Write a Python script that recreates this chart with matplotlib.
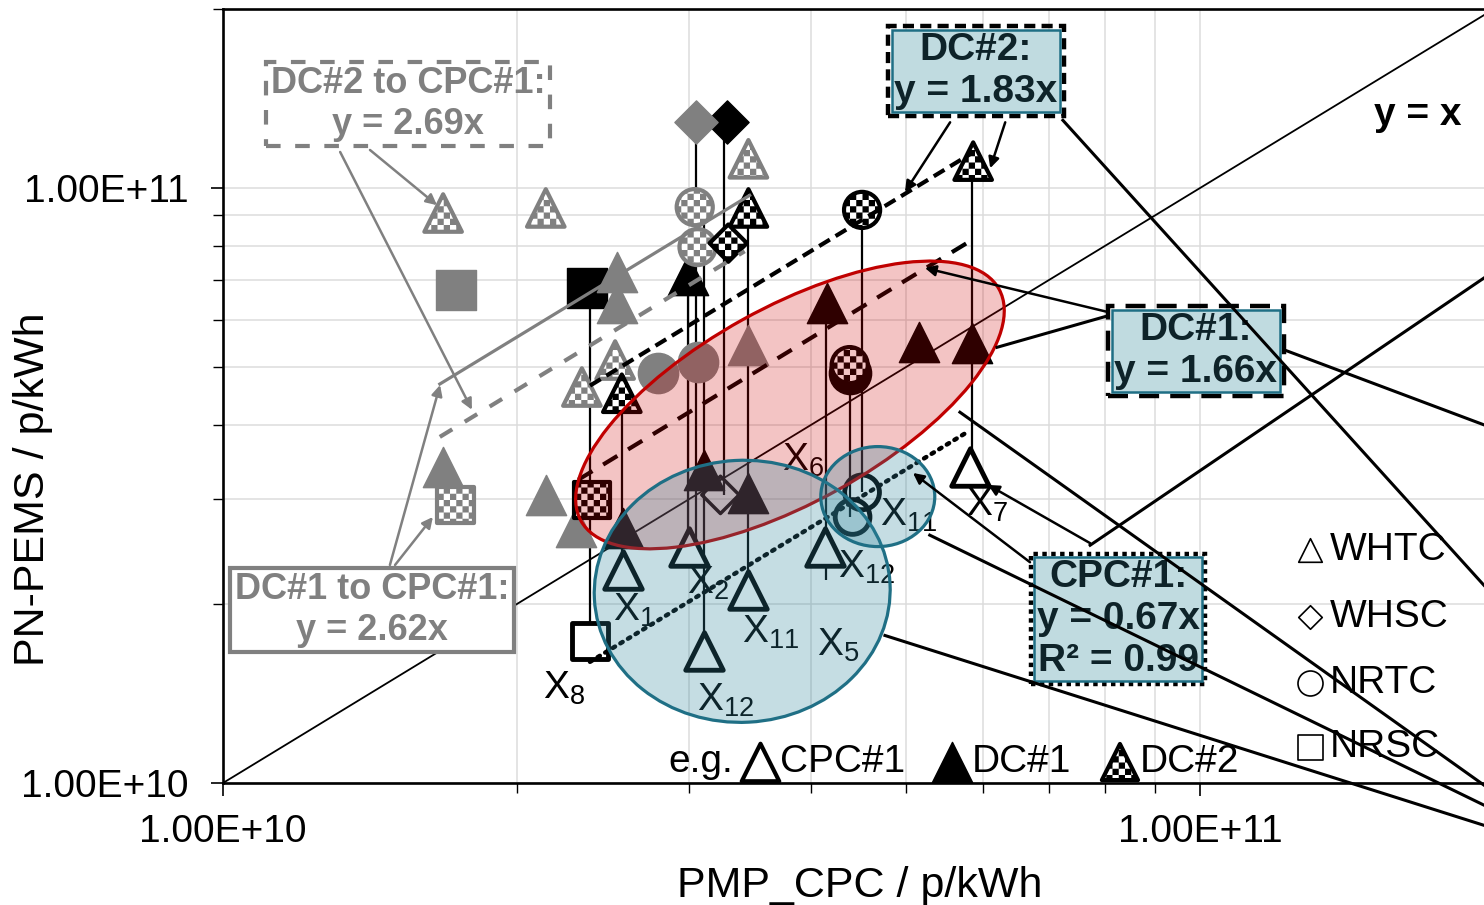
import warnings
warnings.filterwarnings('ignore')
import numpy as np
import matplotlib
matplotlib.use('Agg')
import matplotlib.pyplot as plt
import matplotlib.hatch as mhatch
from matplotlib.path import Path
from matplotlib.patches import Ellipse
from matplotlib.transforms import ScaledTranslation
from matplotlib.ticker import FuncFormatter, LogLocator, NullFormatter

plt.rcParams['font.family'] = ['Liberation Sans', 'DejaVu Sans']
plt.rcParams['hatch.linewidth'] = 0.01
plt.rcParams['mathtext.fontset'] = 'custom'
plt.rcParams['mathtext.rm'] = 'Liberation Sans'
plt.rcParams['mathtext.it'] = 'Liberation Sans'
plt.rcParams['mathtext.bf'] = 'Liberation Sans:bold'


# ---- checkerboard hatch ('c') ----
class CheckerHatch(mhatch.HatchPatternBase):
    def __init__(self, hatch, density):
        self.n = 16 if 'c' in hatch else 0
        self.num_vertices = (self.n * self.n // 2) * 5

    def set_vertices_and_codes(self, vertices, codes):
        n = self.n
        s = 1.0 / n
        k = 0
        for i in range(n):
            for j in range(n):
                if (i + j) % 2 == 0:
                    x0, y0 = i * s, j * s
                    vertices[k:k + 5] = [(x0, y0), (x0 + s, y0), (x0 + s, y0 + s),
                                         (x0, y0 + s), (x0, y0)]
                    codes[k:k + 5] = [Path.MOVETO, Path.LINETO, Path.LINETO,
                                      Path.LINETO, Path.CLOSEPOLY]
                    k += 5


mhatch._hatch_types.append(CheckerHatch)
CHK = 'c'

# ---------------- data ----------------
# grey series
grey_dc2_tri_x = [1.68e10, 2.14e10, 3.45e10, 2.52e10, 2.33e10]
grey_dc2_tri_y = [9.08e10, 9.26e10, 1.12e11, 5.14e10, 4.63e10]
grey_dc1_tri_x = [2.53e10, 2.53e10, 1.68e10, 2.14e10, 2.30e10, 3.45e10]
grey_dc1_tri_y = [7.23e10, 6.41e10, 3.40e10, 3.05e10, 2.69e10, 5.45e10]
grey_dc1_sq_x = [1.73e10]
grey_dc1_sq_y = [6.74e10]
grey_dc2_sq_x = [1.73e10]
grey_dc2_sq_y = [2.93e10]
grey_dc2_circ_x = [3.04e10, 3.06e10]
grey_dc2_circ_y = [9.29e10, 7.96e10]
grey_dc1_circ_x = [2.79e10, 3.06e10]
grey_dc1_circ_y = [4.89e10, 5.10e10]
grey_dc1_dia_x = [3.05e10]
grey_dc1_dia_y = [1.29e11]

# DC#1 (filled black)
dc1_tri_x = [2.99e10, 4.15e10, 5.16e10, 5.84e10, 3.11e10, 3.45e10, 2.57e10]
dc1_tri_y = [7.14e10, 6.41e10, 5.51e10, 5.49e10, 3.36e10, 3.07e10, 2.68e10]
dc1_sq_x = [2.36e10]
dc1_sq_y = [6.79e10]
dc1_circ_x = [4.38e10]
dc1_circ_y = [4.89e10]
dc1_dia_x = [3.28e10]
dc1_dia_y = [1.29e11]

# DC#2 (checkered)
dc2_tri_x = [5.86e10, 3.45e10, 2.56e10]
dc2_tri_y = [1.11e11, 9.26e10, 4.52e10]
dc2_circ_x = [4.51e10, 4.38e10]
dc2_circ_y = [9.19e10, 5.04e10]
dc2_dia_x = [3.29e10]
dc2_dia_y = [8.08e10]
dc2_sq_x = [2.385e10]
dc2_sq_y = [2.99e10]

# CPC#1 (open)
cpc_tri_x = [2.57e10, 3.00e10, 3.45e10, 3.11e10, 4.13e10, 5.81e10]
cpc_tri_y = [2.28e10, 2.49e10, 2.11e10, 1.67e10, 2.49e10, 3.40e10]
cpc_sq_x = [2.375e10]
cpc_sq_y = [1.73e10]
cpc_circ_x = [4.51e10, 4.41e10]
cpc_circ_y = [3.08e10, 2.80e10]
cpc_dia_x = [3.23e10]
cpc_dia_y = [3.05e10]

# vertical links between instruments for the same test
link_x = [2.375e10, 2.56e10, 2.99e10, 3.05e10, 3.11e10, 3.26e10, 3.45e10,
          4.14e10, 4.38e10, 4.51e10, 5.84e10]
link_lo = [1.73e10, 2.30e10, 2.49e10, 2.49e10, 1.67e10, 3.05e10, 2.11e10,
           2.19e10, 2.80e10, 3.08e10, 3.40e10]
link_hi = [6.79e10, 4.52e10, 7.14e10, 1.29e11, 8.83e10, 1.29e11, 9.26e10,
           6.41e10, 4.89e10, 9.19e10, 1.11e11]

# fitted slopes (as drawn) and x-ranges
fit_cpc1_k, fit_cpc1_x = 0.673, [2.375e10, 5.78e10]
fit_dc1_k, fit_dc1_x = 1.40, [2.31e10, 5.80e10]
fit_dc2_k, fit_dc2_x = 1.96, [2.375e10, 5.85e10]
fit_g1_k, fit_g1_x = 2.81, [1.667e10, 3.46e10]
fit_g2_k, fit_g2_x = 2.29, [1.667e10, 3.42e10]

# labels X_n
xlab_text = ['1', '2', '11', '5', '12', '12', '8', '6', '11', '7']
xlab_x = [2.507e10, 2.985e10, 3.398e10, 4.055e10, 3.056e10, 4.261e10,
          2.126e10, 3.734e10, 4.704e10, 5.76e10]
xlab_y = [1.953e10, 2.168e10, 1.794e10, 1.706e10, 1.379e10, 2.307e10,
          1.444e10, 3.49e10, 2.82e10, 2.93e10]

# ellipses: centre (data), width/height (inches), angle
ell_red = (3.805e10, 4.32e10, 4.78, 1.95, 29)
ell_blue_big = (3.40e10, 2.10e10, 2.96, 2.62, 3)
ell_blue_small = (4.68e10, 3.03e10, 1.14, 1.00, 0)

# annotation arrows (tail -> head), data coords
black_arrows = [((5.55e10, 1.29e11), (4.99e10, 9.85e10)),
                ((6.32e10, 1.29e11), (6.10e10, 1.08e11)),
                ((8.05e10, 6.19e10), (5.23e10, 7.34e10)),
                ((7.72e10, 2.53e10), (6.07e10, 3.17e10)),
                ((6.70e10, 2.35e10), (5.085e10, 3.32e10))]
black_lines = [((7.24e10, 1.30e11), (1.953e11, 2.15e10)),
               ((8.05e10, 6.10e10), (6.20e10, 5.40e10)),
               ((1.222e11, 5.34e10), (1.953e11, 4.0e10)),
               ((7.72e10, 2.51e10), (1.953e11, 7.06e10)),
               ((5.68e10, 4.20e10), (1.953e11, 9.92e9)),
               ((5.29e10, 2.61e10), (1.953e11, 9.18e9)),
               ((4.76e10, 1.77e10), (1.953e11, 8.49e9))]
grey_arrows = [((1.414e10, 1.159e11), (1.656e10, 9.36e10)),
               ((1.318e10, 1.150e11), (1.798e10, 4.24e10)),
               ((1.482e10, 2.325e10), (1.668e10, 4.667e10)),
               ((1.50e10, 2.325e10), (1.640e10, 2.80e10))]

GREY = '#808080'
TEAL = '#1f6f85'
BOXFILL = '#c0dbe0'
TXTDARK = '#0e2329'

# ---------------- figure ----------------
fig = plt.figure(figsize=(14.84, 9.05), dpi=100)
ax = fig.add_axes([223 / 1484, 122 / 905, 1271 / 1484, 774 / 905])
ax.set_xscale('log')
ax.set_yscale('log')
ax.set_xlim(1e10, 2e11)
ax.set_ylim(1e10, 2e11)

fmt = FuncFormatter(lambda v, p: f'{v:.2E}')
for axis in (ax.xaxis, ax.yaxis):
    axis.set_major_locator(LogLocator(base=10, numticks=5))
    axis.set_major_formatter(fmt)
    axis.set_minor_locator(LogLocator(base=10, subs=np.arange(2, 10), numticks=20))
    axis.set_minor_formatter(NullFormatter())
ax.tick_params(which='major', direction='out', length=9, width=1.2, labelsize=28)
ax.tick_params(which='minor', direction='out', length=7, width=1.0)
ax.tick_params(axis='x', which='major', pad=13)
ax.tick_params(axis='y', which='major', pad=16)
ax.grid(True, which='both', color='#dcdcdc', lw=1.1)
ax.set_axisbelow(True)
for s in ['left', 'bottom', 'top']:
    ax.spines[s].set_linewidth(1.9)
ax.spines['right'].set_visible(False)

ax.set_xlabel('PMP_CPC / p/kWh', fontsize=31)
ax.xaxis.set_label_coords(0.501, -0.107)
ax.set_ylabel('PN-PEMS / p/kWh', fontsize=31)
ax.yaxis.set_label_coords(-0.1335, 0.379)

# y = x line
ax.plot([1e10, 3e11], [1e10, 3e11], color='black', lw=1.3, zorder=2)

# vertical links
ax.vlines(link_x, link_lo, link_hi, colors='black', lw=1.6, zorder=2)

MS_T = 29 ** 2
MS_C = 29 ** 2
MS_S = 29 ** 2
MS_D = 22 ** 2
MS_TO = 27 ** 2

# DC#1 filled black
ax.scatter(dc1_sq_x, dc1_sq_y, marker='s', s=MS_S, c='black', edgecolors='black', lw=1, zorder=3)
ax.scatter(dc1_tri_x, dc1_tri_y, marker='^', s=MS_T, c='black', edgecolors='black', lw=1, zorder=3)
ax.scatter(dc1_circ_x, dc1_circ_y, marker='o', s=MS_C * 1.1, c='black', edgecolors='black', lw=1, zorder=3)
ax.scatter(dc1_dia_x, dc1_dia_y, marker='D', s=MS_D, c='black', edgecolors='black', lw=1, zorder=3)

# grey series
ax.scatter(grey_dc1_tri_x, grey_dc1_tri_y, marker='^', s=MS_T, c=GREY, edgecolors=GREY, lw=1, zorder=3.1)
ax.scatter(grey_dc1_sq_x, grey_dc1_sq_y, marker='s', s=MS_S, c=GREY, edgecolors=GREY, lw=1, zorder=3.1)
ax.scatter(grey_dc1_circ_x, grey_dc1_circ_y, marker='o', s=MS_C, c=GREY, edgecolors=GREY, lw=1, zorder=3.1)
ax.scatter(grey_dc1_dia_x, grey_dc1_dia_y, marker='D', s=MS_D, c=GREY, edgecolors=GREY, lw=1, zorder=3.1)
ax.scatter(grey_dc2_tri_x, grey_dc2_tri_y, marker='^', s=MS_TO, c='white', edgecolors=GREY,
           lw=3, hatch=CHK, zorder=3.2)
ax.scatter(grey_dc2_sq_x, grey_dc2_sq_y, marker='s', s=26 ** 2, c='white', edgecolors=GREY,
           lw=3, hatch=CHK, zorder=3.2)
ax.scatter(grey_dc2_circ_x, grey_dc2_circ_y, marker='o', s=26 ** 2, c='white', edgecolors=GREY,
           lw=3, hatch=CHK, zorder=3.2)

# DC#2 checkered
ax.scatter(dc2_tri_x, dc2_tri_y, marker='^', s=MS_TO, c='white', edgecolors='black',
           lw=3, hatch=CHK, zorder=3.3)
ax.scatter(dc2_circ_x, dc2_circ_y, marker='o', s=26 ** 2, c='white', edgecolors='black',
           lw=3, hatch=CHK, zorder=3.3)
ax.scatter(dc2_dia_x, dc2_dia_y, marker='D', s=19 ** 2, c='white', edgecolors='black',
           lw=3, hatch=CHK, zorder=3.3)
ax.scatter(dc2_sq_x, dc2_sq_y, marker='s', s=26 ** 2, c='white', edgecolors='black',
           lw=3, hatch=CHK, zorder=3.3)

# CPC#1 open
ax.scatter(cpc_tri_x, cpc_tri_y, marker='^', s=MS_TO, c='white', edgecolors='black', lw=3.5, zorder=3.4)
ax.scatter(cpc_sq_x, cpc_sq_y, marker='s', s=26 ** 2, c='white', edgecolors='black', lw=3.5, zorder=3.4)
ax.scatter(cpc_circ_x, cpc_circ_y, marker='o', s=25 ** 2, facecolors='none', edgecolors='black',
           lw=3.5, zorder=3.4)
ax.scatter(cpc_dia_x, cpc_dia_y, marker='D', s=19 ** 2, facecolors='none', edgecolors='black',
           lw=2.5, zorder=3.4)

# fit lines
def fit(k, xr):
    xr = np.array(xr)
    return xr, k * xr

xx, yy = fit(fit_cpc1_k, fit_cpc1_x)
ax.plot(xx, yy, color='black', lw=3.2, ls=(0, (0.6, 1.4)), dash_capstyle='round', zorder=4)
xx, yy = fit(fit_dc1_k, fit_dc1_x)
ax.plot(xx, yy, color='black', lw=3, ls=(0, (4, 3)), zorder=4)
xx, yy = fit(fit_dc2_k, fit_dc2_x)
ax.plot(xx, yy, color='black', lw=3, ls=(0, (3, 1.6)), zorder=4)
xx, yy = fit(fit_g1_k, fit_g1_x)
ax.plot(xx, yy, color=GREY, lw=2.3, zorder=4)
xx, yy = fit(fit_g2_k, fit_g2_x)
ax.plot(xx, yy, color=GREY, lw=3, ls=(0, (3.5, 3.5)), zorder=4)

# X labels (under ellipses)
for t, x, y in zip(xlab_text, xlab_x, xlab_y):
    ax.text(x, y, r'X$_{\mathregular{' + t + '}}$', fontsize=28, ha='left', va='center', zorder=4.5)

# ellipses
def add_ellipse(e, fc, ec):
    cx, cy, w, h, ang = e
    tr = fig.dpi_scale_trans + ScaledTranslation(cx, cy, ax.transData)
    ax.add_patch(Ellipse((0, 0), w, h, angle=ang, transform=tr, facecolor=fc,
                         edgecolor=ec, lw=2.3, zorder=5))

add_ellipse(ell_red, (0.8, 0.0, 0.0, 0.23), '#c00000')
add_ellipse(ell_blue_big, (0.19, 0.52, 0.61, 0.28), TEAL)
add_ellipse(ell_blue_small, (0.19, 0.52, 0.61, 0.28), TEAL)

# arrows
for (t, h) in black_arrows:
    ax.annotate('', xy=h, xytext=t, annotation_clip=False, zorder=6,
                arrowprops=dict(arrowstyle='-|>', color='black', lw=1.8,
                                mutation_scale=16, shrinkA=0, shrinkB=0))
for (t, h) in grey_arrows:
    ax.annotate('', xy=h, xytext=t, annotation_clip=False, zorder=6,
                arrowprops=dict(arrowstyle='-|>', color=GREY, lw=1.8,
                                mutation_scale=16, shrinkA=0, shrinkB=0))

# text boxes
LS = 1.2


def dual_box(x, y, txt, outer_ls, outer_pad, inner_pad=0.06, fs=28):
    ax.text(x, y, txt, transform=ax.transAxes, fontsize=fs, fontweight='bold', color='none',
            ha='center', va='center', linespacing=LS, zorder=7,
            bbox=dict(boxstyle=f'square,pad={outer_pad}', fc='none', ec='black', lw=3.2, ls=outer_ls))
    ax.text(x, y, txt, transform=ax.transAxes, fontsize=fs, fontweight='bold', color=TXTDARK,
            ha='center', va='center', linespacing=LS, zorder=7.1,
            bbox=dict(boxstyle=f'square,pad={inner_pad}', fc=BOXFILL, ec=TEAL, lw=1.8))

dual_box(0.5924, 0.9199, 'DC#2:\ny = 1.83x', (0, (2.5, 1.4)), 0.16)
dual_box(0.7655, 0.5581, 'DC#1:\ny = 1.66x', (0, (4.5, 2.5)), 0.16)
dual_box(0.7042, 0.2119, 'CPC#1:\ny = 0.67x\nR² = 0.99', (0, (1, 1)), 0.13)

ax.text(0.1456, 0.8773, 'DC#2 to CPC#1:\ny = 2.69x', transform=ax.transAxes, fontsize=26,
        fontweight='bold', color=GREY, ha='center', va='center', linespacing=LS, zorder=7,
        bbox=dict(boxstyle='square,pad=0.12', fc='none', ec=GREY, lw=3, ls=(0, (3.5, 3.5))))
ax.text(0.1172, 0.2235, 'DC#1 to CPC#1:\ny = 2.62x', transform=ax.transAxes, fontsize=26,
        fontweight='bold', color=GREY, ha='center', va='center', linespacing=LS, zorder=7,
        bbox=dict(boxstyle='square,pad=0.12', fc='white', ec=GREY, lw=3))

ax.text(0.9402, 0.863, 'y = x', transform=ax.transAxes, fontsize=28, fontweight='bold',
        ha='center', va='center', zorder=7)

# long leader lines (on top of the boxes)
for (a, b) in black_lines:
    ax.plot([a[0], b[0]], [a[1], b[1]], color='black', lw=2.2, clip_on=False, zorder=8)

# right legend (test cycles)
leg_names = ['WHTC', 'WHSC', 'NRTC', 'NRSC']
leg_markers = ['^', 'D', 'o', 's']
leg_sizes = [17, 12, 18, 18]
leg_y = [0.301, 0.2145, 0.1292, 0.0465]
for n, m, sz, yy_ in zip(leg_names, leg_markers, leg_sizes, leg_y):
    ax.scatter([0.8552], [yy_], marker=m, s=sz ** 2, facecolors='white', edgecolors='black',
               lw=1.2, transform=ax.transAxes, clip_on=False, zorder=7)
    ax.text(0.871, yy_, n, transform=ax.transAxes, fontsize=28, ha='left', va='center', zorder=7)

# bottom legend (instruments)
ax.text(0.3501, 0.0271, 'e.g.', transform=ax.transAxes, fontsize=28, ha='left', va='center', zorder=7)
ax.scatter([0.4225], [0.0271], marker='^', s=27 ** 2, facecolors='white', edgecolors='black',
           lw=3, transform=ax.transAxes, clip_on=False, zorder=7)
ax.text(0.4382, 0.0271, 'CPC#1', transform=ax.transAxes, fontsize=28, ha='left', va='center', zorder=7)
ax.scatter([0.5736], [0.0271], marker='^', s=29 ** 2, c='black', edgecolors='black',
           lw=1, transform=ax.transAxes, clip_on=False, zorder=7)
ax.text(0.5893, 0.0271, 'DC#1', transform=ax.transAxes, fontsize=28, ha='left', va='center', zorder=7)
ax.scatter([0.7057], [0.0271], marker='^', s=26 ** 2, c='white', edgecolors='black', hatch=CHK,
           lw=3, transform=ax.transAxes, clip_on=False, zorder=7)
ax.text(0.7215, 0.0271, 'DC#2', transform=ax.transAxes, fontsize=28, ha='left', va='center', zorder=7)

fig.savefig('out.png', dpi=100)
